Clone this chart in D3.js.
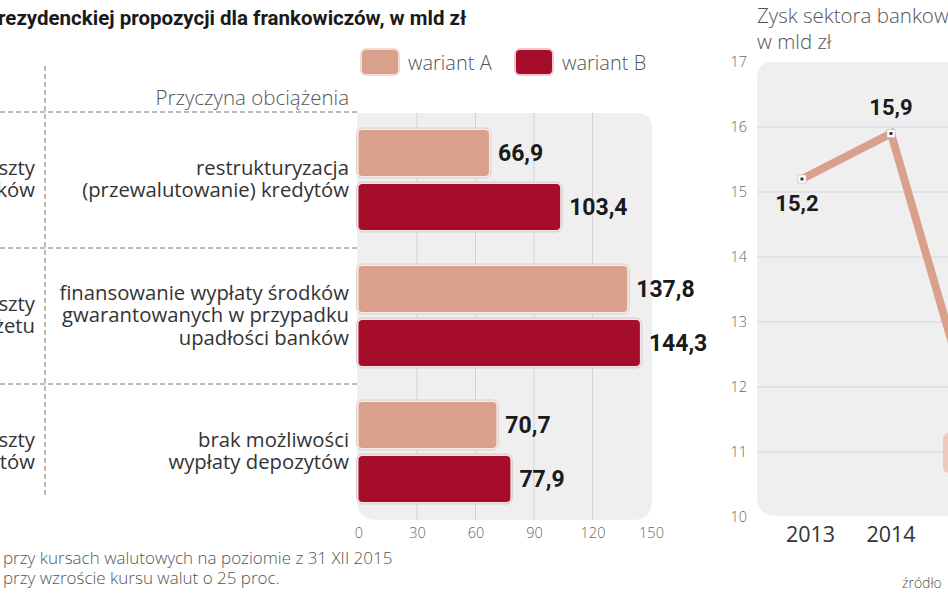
<!DOCTYPE html>
<html><head><meta charset="utf-8">
<script src="https://cdn.jsdelivr.net/npm/d3@7/dist/d3.min.js"></script>
<style>
html,body{margin:0;padding:0;background:#fff;overflow:hidden}
svg{display:block}
text{font-family:"Open Sans",sans-serif}
</style></head>
<body>
<svg id="c" width="948" height="593"></svg>
<script>
// ---- data: bar chart ----
const causes = [
  ["restrukturyzacja", "(przewalutowanie) kredytów"],
  ["finansowanie wypłaty środków", "gwarantowanych w przypadku", "upadłości banków"],
  ["brak możliwości", "wypłaty depozytów"]
];
const bearers = [["szty", "ków"], ["szty", "żetu"], ["szty", "tów"]];
const variantA = [66.9, 137.8, 70.7];
const variantB = [103.4, 144.3, 77.9];
const seriesNames = ["wariant A", "wariant B"];
const barTicks = [0, 30, 60, 90, 120, 150];
const footnotes = ["przy kursach walutowych na poziomie z 31 XII 2015", "przy wzroście kursu walut o 25 proc."];
// ---- data: line chart ----
const years = [2013, 2014, 2015];
const profit = [15.2, 15.9, 11.2];
const profitTicks = [10, 11, 12, 13, 14, 15, 16, 17];

const colA = "#d9a08b", colB = "#a50d2b";
const svg = d3.select("#c");

// ---------- left: title ----------
svg.append("text").attr("x", -2).attr("y", 25)
  .style("font-family", "Roboto").style("font-weight", 700).style("font-size", "20.5px").attr("fill", "#1a1a1a")
  .text("rezydenckiej propozycji dla frankowiczów, w mld zł");

// legend
const legX = [361, 515];
seriesNames.forEach((n, i) => {
  svg.append("rect").attr("x", legX[i]).attr("y", 49).attr("width", 38).attr("height", 26).attr("rx", 5)
    .attr("fill", i ? colB : colA).attr("stroke", i ? "#f2c6cd" : "#f4dcd2").attr("stroke-width", 2);
  svg.append("text").attr("x", legX[i] + 47).attr("y", 70).attr("fill", "#555")
    .style("font-size", "20px").style("font-weight", 300).text(n);
});

svg.append("text").attr("x", 349).attr("y", 105).attr("text-anchor", "end").attr("fill", "#555")
  .style("font-size", "20.5px").style("font-weight", 300).text("Przyczyna obciążenia");

// scales
const x = d3.scaleLinear().domain([0, 150]).range([358.5, 651]);
const gy = d3.scaleBand().domain(d3.range(causes.length)).range([112, 520]).paddingInner(0.265).paddingOuter(0.1325);
const sy = d3.scaleBand().domain([0, 1]).range([0, gy.bandwidth()]).paddingInner(0.148);

// panel
svg.append("path").attr("fill", "#efeff0")
  .attr("d", `M357,113 H636 Q652,113 652,129 V500 Q652,520 632,520 H377 Q357,520 357,500 Z`);
// gridlines
svg.append("g").selectAll("line").data(barTicks.slice(1, -1)).join("line")
  .attr("x1", d => x(d)).attr("x2", d => x(d)).attr("y1", 113).attr("y2", 520)
  .attr("stroke", "#d3d3d5").attr("stroke-width", 1);

// dashed guides
const dash = svg.append("g").attr("stroke", "#777").attr("stroke-width", 1).attr("stroke-dasharray", "5,3");
const seps = [112, (gy(0) + gy.bandwidth() + gy(1)) / 2, (gy(1) + gy.bandwidth() + gy(2)) / 2];
seps.forEach(y => dash.append("line").attr("x1", 0).attr("x2", 358).attr("y1", y).attr("y2", y));
dash.append("line").attr("x1", 45).attr("x2", 45).attr("y1", 66).attr("y2", 497);

// bars
const rows = [];
causes.forEach((c, i) => { rows.push({g: i, s: 0, v: variantA[i]}); rows.push({g: i, s: 1, v: variantB[i]}); });
const bg = svg.append("g");
rows.forEach(r => {
  const y0 = gy(r.g) + sy(r.s), h = sy.bandwidth(), w = x(r.v) - x(0);
  bg.append("rect").attr("x", x(0) - 2).attr("y", y0 - 2).attr("width", w + 4).attr("height", h + 4).attr("rx", 6)
    .attr("fill", r.s ? "#f6e3e6" : "#f8ece7").attr("stroke", "#cfc6c4").attr("stroke-width", 0.8);
  bg.append("rect").attr("x", x(0)).attr("y", y0).attr("width", w).attr("height", h).attr("rx", 4)
    .attr("fill", r.s ? colB : colA);
  bg.append("text").attr("x", x(r.v) + 9).attr("y", y0 + h / 2 + 8)
    .style("font-family", "Roboto").style("font-weight", 700).style("font-size", "23px").attr("fill", "#1a1a1a")
    .text(d3.format(".1f")(r.v).replace(".", ","));
});

// cause labels
causes.forEach((lines, i) => {
  const cy = gy(i) + gy.bandwidth() / 2;
  const t0 = cy - (lines.length - 1) * 22.5 / 2 + 6;
  lines.forEach((l, j) => svg.append("text").attr("x", 349).attr("y", t0 + j * 22.5).attr("text-anchor", "end")
    .attr("fill", "#333").style("font-size", "20.3px").text(l));
  const b = bearers[i];
  b.forEach((l, j) => svg.append("text").attr("x", 35).attr("y", cy - 11.25 + 6 + j * 22.5).attr("text-anchor", "end")
    .attr("fill", "#333").style("font-size", "20.3px").text(l));
});

// bar axis
const xa = svg.append("g").attr("transform", "translate(0,522)")
  .call(d3.axisBottom(x).tickValues(barTicks).tickSize(0).tickPadding(6));
xa.select(".domain").remove();
xa.selectAll("text").attr("fill", "#666").style("font-size", "14.5px").style("font-family", "Open Sans").style("font-weight", 300);

// footnotes
footnotes.forEach((f, i) => svg.append("text").attr("x", 3).attr("y", 564 + i * 20).attr("fill", "#555")
  .style("font-size", "17px").style("font-weight", 300).text(f));

// ---------- right: line chart ----------
svg.append("text").attr("x", 757).attr("y", 23).attr("fill", "#555").style("font-size", "20.5px").style("font-weight", 300).text("Zysk sektora bankow");
svg.append("text").attr("x", 757).attr("y", 49).attr("fill", "#555").style("font-size", "20.5px").style("font-weight", 300).text("w mld zł");

const ly = d3.scaleLinear().domain([10, 17]).range([517, 62]);
const lx = d3.scaleLinear().domain([2013, 2015]).range([802, 980]);

svg.append("path").attr("fill", "#efeff0").attr("d", `M757,78 Q757,62 773,62 H960 V516 H777 Q757,516 757,496 Z`);
svg.append("g").selectAll("line").data(profitTicks.filter(d => d > 10 && d < 17)).join("line")
  .attr("x1", 757).attr("x2", 948).attr("y1", d => ly(d)).attr("y2", d => ly(d))
  .attr("stroke", "#d6d6d8").attr("stroke-width", 1.2);

const ya = svg.append("g").attr("transform", "translate(753,0)")
  .call(d3.axisLeft(ly).tickValues(profitTicks).tickFormat(d3.format("d")).tickSize(0).tickPadding(6));
ya.select(".domain").remove();
ya.selectAll("text").attr("fill", "#666").style("font-size", "14.5px").style("font-family", "Open Sans").style("font-weight", 300);

// highlight box for last value (mostly out of frame)
svg.append("rect").attr("x", lx(2015) - 37).attr("y", 433).attr("width", 74).attr("height", 40).attr("rx", 6)
  .attr("fill", "#ecc9bb");

svg.append("path").datum(years.map((y, i) => [lx(y), ly(profit[i])]))
  .attr("fill", "none").attr("stroke", colA).attr("stroke-width", 8).attr("stroke-linejoin", "miter")
  .attr("d", d3.line());

years.forEach((y, i) => {
  const px = lx(y), py = ly(profit[i]);
  svg.append("rect").attr("x", px - 4).attr("y", py - 4).attr("width", 8).attr("height", 8)
    .attr("fill", "#fff").attr("stroke", "#bbb").attr("stroke-width", 0.6);
  svg.append("rect").attr("x", px - 1.5).attr("y", py - 1.5).attr("width", 3).attr("height", 3).attr("fill", "#333");
});
const labOff = [[-5, 32], [0, -19]];
labOff.forEach((o, i) => svg.append("text").attr("x", lx(years[i]) + o[0]).attr("y", ly(profit[i]) + o[1])
  .attr("text-anchor", "middle").style("font-family", "Roboto").style("font-weight", 700).style("font-size", "22px")
  .attr("fill", "#1a1a1a").text(d3.format(".1f")(profit[i]).replace(".", ",")));

const xl = svg.append("g").attr("transform", "translate(8,523)")
  .call(d3.axisBottom(lx).tickValues(years.slice(0, 2)).tickFormat(d3.format("d")).tickSize(0).tickPadding(4));
xl.select(".domain").remove();
xl.selectAll("text").attr("fill", "#333").style("font-size", "21.5px").style("font-family", "Open Sans").style("font-weight", 500);
xl.selectAll(".tick").filter(d => d === 2014).attr("transform", `translate(${lx(2014) - 8},0)`);

svg.append("text").attr("x", 902).attr("y", 588).attr("fill", "#555").style("font-size", "14px").style("font-weight", 300).text("źródło");
</script>
</body></html>
